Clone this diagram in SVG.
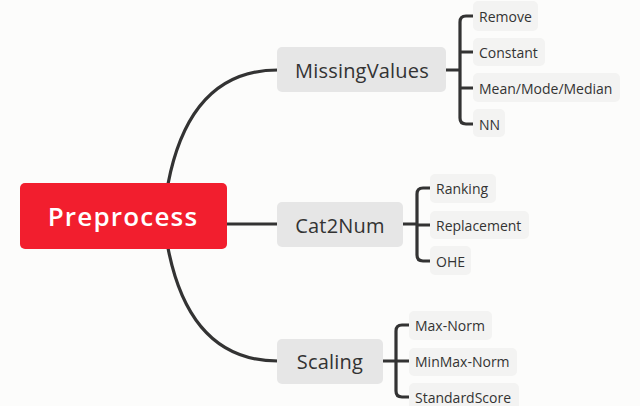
<svg xmlns="http://www.w3.org/2000/svg" width="640" height="406" viewBox="0 0 640 406">
<style>
.bg{fill:#fcfcfb}
.root{fill:#f21e2e}
.main{fill:#e6e6e6}
.leaf{fill:#f3f3f2}
.conn{fill:none;stroke:#333333;stroke-width:3.2;stroke-linecap:butt}
text{font-family:"Open Sans","Liberation Sans",sans-serif;fill:#333333;dominant-baseline:central}
.rt{fill:#ffffff;font-size:26px;font-weight:600;text-anchor:middle;letter-spacing:1.2px}
.mt{font-size:20px;text-anchor:middle;letter-spacing:0.2px}
.lt{font-size:14px}
</style>
<rect class="bg" x="0" y="0" width="640" height="406"/>
<g id="connectors">
<path class="conn" d="M168 184 Q190 70 278 70"/>
<path class="conn" d="M226 224 H278"/>
<path class="conn" d="M168 248 Q190 361 278 361"/>
<path class="conn" d="M446 70 H460 M473 16 H466 Q460 16 460 22 V118 Q460 124 466 124 H473 M460 52 H473 M460 88 H473"/>
<path class="conn" d="M403 224 H417 M430 188 H423 Q417 188 417 194 V255 Q417 261 423 261 H430 M417 225 H430"/>
<path class="conn" d="M383 361 H396 M409 325 H402 Q396 325 396 331 V391 Q396 397 402 397 H409 M396 361 H409"/>
</g>
<g id="preprocess"><rect class="root" x="20" y="183" width="207" height="66" rx="5"/><text class="rt" x="123" y="216">Preprocess</text></g>
<g id="missingvalues"><rect class="main" x="277" y="47" width="169" height="45" rx="5"/><text class="mt" x="362" y="70">MissingValues</text></g>
<g id="cat2num"><rect class="main" x="277" y="202" width="126" height="45" rx="5"/><text class="mt" x="340" y="225">Cat2Num</text></g>
<g id="scaling"><rect class="main" x="277" y="339" width="106" height="45" rx="5"/><text class="mt" x="330" y="361">Scaling</text></g>
<g id="remove"><rect class="leaf" x="473" y="1" width="65" height="30" rx="5"/><text class="lt" x="479" y="16">Remove</text></g>
<g id="constant"><rect class="leaf" x="473" y="38" width="72" height="28" rx="5"/><text class="lt" x="479" y="52">Constant</text></g>
<g id="meanmodemedian"><rect class="leaf" x="473" y="73" width="147" height="29" rx="5"/><text class="lt" x="479" y="88">Mean/Mode/Median</text></g>
<g id="nn"><rect class="leaf" x="473" y="109" width="32" height="28" rx="5"/><text class="lt" x="479" y="124">NN</text></g>
<g id="ranking"><rect class="leaf" x="430" y="174" width="66" height="29" rx="5"/><text class="lt" x="436" y="188">Ranking</text></g>
<g id="replacement"><rect class="leaf" x="430" y="211" width="99" height="28" rx="5"/><text class="lt" x="436" y="225">Replacement</text></g>
<g id="ohe"><rect class="leaf" x="430" y="246" width="41" height="29" rx="5"/><text class="lt" x="436" y="261">OHE</text></g>
<g id="maxnorm"><rect class="leaf" x="409" y="311" width="83" height="29" rx="5"/><text class="lt" x="415" y="325">Max-Norm</text></g>
<g id="minmaxnorm"><rect class="leaf" x="409" y="348" width="108" height="28" rx="5"/><text class="lt" x="415" y="361">MinMax-Norm</text></g>
<g id="standardscore"><rect class="leaf" x="409" y="383" width="110" height="30" rx="5"/><text class="lt" x="415" y="397">StandardScore</text></g>
</svg>
